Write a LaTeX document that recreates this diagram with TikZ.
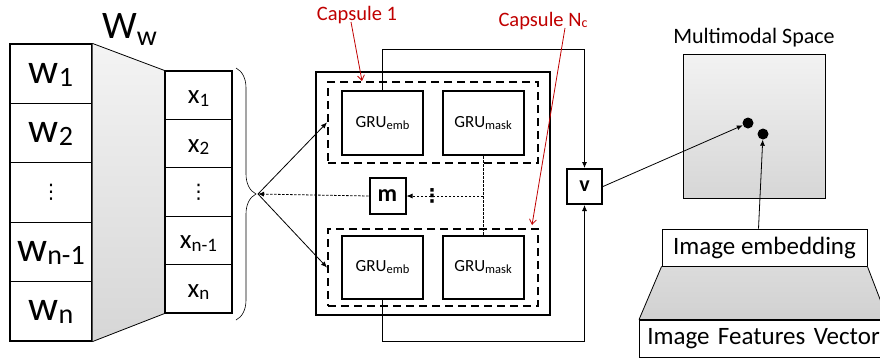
\documentclass[tikz,border=0pt]{standalone}
\usepackage{fontspec}
\setmainfont{Carlito}
\newfontfamily\dvs{DejaVu Sans}
\usetikzlibrary{arrows.meta,decorations.pathreplacing,calc}
\definecolor{capred}{RGB}{192,0,0}
\newcommand{\fs}[1]{\fontsize{#1}{#1}\selectfont}
\newcommand{\sbs}[3]{{\fs{#1}\raisebox{-#2pt}{#3}}}
\begin{document}
\begin{tikzpicture}[x=1pt,y=-1pt,
  cell/.style={draw,line width=1.1pt,inner sep=0pt},
  wcell/.style={cell,minimum width=82,minimum height=59.4},
  wtext/.style={font=\fs{42},text height=22pt,text depth=3pt},
  xcell/.style={cell,minimum width=67,minimum height=48.4},
  xtext/.style={font=\fs{27},text height=19.6pt,text depth=2.5pt},
  grubox/.style={draw,line width=2pt,minimum width=81,minimum height=64,inner sep=0pt,font=\fs{17}},
  capbox/.style={draw,line width=2pt,dash pattern=on 8pt off 5pt,minimum width=210,inner sep=0pt},
  sbox/.style={draw,line width=2pt,minimum width=36,minimum height=36,inner sep=0pt,font=\bfseries\fs{24}},
  tip/.style={-{Latex[length=6pt,width=5pt]}},
  redlbl/.style={text=capred,font=\fs{20.5},inner sep=0pt},
  redarrow/.style={draw=capred,line width=0.8pt,-{Straight Barb[length=5pt,width=7pt]}},
  dline/.style={dash pattern=on 2.5pt off 1.5pt,line width=0.8pt},
  dot/.style={circle,fill=black,inner sep=0pt,minimum size=11}
]
\useasboundingbox (0,0) rectangle (880,360);
\begin{scope}
\clip (0,0) rectangle (880,360);
% ---------- W column ----------
\node[wcell,wtext] (w1) at (51,73.7) {w\sbs{28}{3}{1}};
\node[wcell,wtext] (w2) at (51,133.1) {w\sbs{28}{3}{2}};
\node[wcell,font=\dvs\fs{20}] (w3) at (51,192.5) {⋮};
\node[wcell,wtext] (w4) at (51,251.9) {w\sbs{28}{3}{n-1}};
\node[wcell,wtext] (w5) at (51,311.3) {w\sbs{28}{3}{n}};
% ---------- x column ----------
\node[xcell,xtext] (x1) at (198.5,95.2) {x\sbs{19}{2.5}{1}};
\node[xcell,xtext] (x2) at (198.5,143.6) {x\sbs{19}{2.5}{2}};
\node[xcell,font=\dvs\fs{20}] (x3) at (198.5,192) {⋮};
\node[xcell,xtext] (x4) at (198.5,240.4) {x\sbs{19}{2.5}{n-1}};
\node[xcell,xtext] (x5) at (198.5,288.8) {x\sbs{19}{2.5}{n}};
% ---------- projection trapezoid ----------
\shade[top color=gray!9,bottom color=gray!32] (w1.north east) -- (x1.north west) -- (x5.south west) -- (w5.south east) -- cycle;
\draw[line width=0.8pt] (w1.north east) -- (x1.north west);
\draw[line width=0.8pt] (w5.south east) -- (x5.south west);
\node[inner sep=0pt,anchor=base west,font=\fs{39}] (ww) at (102,38) {W\sbs{28}{7}{w}};
% ---------- brace ----------
\draw[decorate,decoration={brace,amplitude=20pt},line width=0.6pt] (236,68) -- (236,320);
\coordinate (bt) at (258,194);
% ---------- main block ----------
\node[draw,line width=2pt,minimum width=234,minimum height=243,inner sep=0pt] (main) at (433,193.5) {};
\node[capbox,minimum height=81] (cap1) at (433,122.5) {};
\node[capbox,minimum height=77] (capN) at (433,267.5) {};
\node[grubox] (emb1) at (382.5,123) {GRU\sbs{12.5}{2}{emb}};
\node[grubox] (mask1) at (483,123) {GRU\sbs{12.5}{2}{mask}};
\node[grubox,minimum height=63] (emb2) at (382.5,267.5) {GRU\sbs{12.5}{2}{emb}};
\node[grubox,minimum height=63] (mask2) at (483,267.5) {GRU\sbs{12.5}{2}{mask}};
\node[sbox] (m) at (387.5,196) {m};
\node[inner sep=0pt,font=\dvs\bfseries\fs{19}] (vd) at (432,196) {⋮};
% connectors inside
\draw[dline] (mask1.south) -- (mask2.north);
\draw[dline,tip] (mask1.south |- m.east) -- (m.east);
\draw[dline,tip] (m.west) -- (bt);
\draw[line width=0.8pt,tip] (bt) -- (cap1.west);
\draw[line width=0.8pt,tip] (bt) -- (capN.west);
% ---------- v ----------
\node[sbox,minimum width=35,minimum height=35,font=\bfseries\fs{22}] (v) at (584.5,186.5) {v};
\draw[line width=0.8pt,tip] (emb1.north) -- ++(0,-41) -| (v.north);
\draw[line width=0.8pt,tip] (emb2.south) -- ++(0,41) -| (v.south);
% ---------- red labels ----------
\node[redlbl] (c1l) at (357,15) {Capsule 1};
\node[redlbl] (cNl) at (543,21) {Capsule N\sbs{14}{1.5}{c}};
\coordinate (c1t) at (362,81);
\coordinate (cNt) at (532,225);
\draw[redarrow] ([xshift=-6pt,yshift=2pt]c1l.south) -- (c1t);
\draw[redarrow] ([xshift=22pt,yshift=2pt]cNl.south) -- (cNt);
% ---------- multimodal space ----------
\node[inner sep=0pt,font=\fs{22}] (ml) at (754,38) {Multimodal Space};
\node[draw,line width=0.8pt,minimum width=142,minimum height=144,top color=gray!10,bottom color=gray!32] (ms) at (754,126) {};
\node[dot] (d1) at (748,123) {};
\node[dot] (d2) at (763,134) {};
\draw[line width=0.8pt,tip] (v.east) -- (d1);
% ---------- image side ----------
\node[draw,line width=0.8pt,minimum width=205,minimum height=37,inner sep=0pt,font=\fs{25}] (ie) at (764.5,247.5) {Image embedding};
\node[draw,line width=0.8pt,anchor=west,minimum height=37,inner xsep=8pt,inner ysep=0pt,text width=240,align=left,font=\fs{25}] (ifv) at (639,338.5) {Image Features Vector};
\coordinate (tbr) at (888,320);
\shade[top color=gray!28,middle color=gray!12,bottom color=gray!36] (ie.south west) -- (ie.south east) -- (tbr) -- (ifv.north west) -- cycle;
\draw[line width=0.8pt] (ie.south west) -- (ifv.north west);
\draw[line width=0.8pt] (ie.south east) -- (tbr);
\draw[line width=0.8pt] (ifv.north west) -- (ifv.north east);
\draw[line width=0.8pt] (ie.south west) -- (ie.south east);
\draw[line width=0.8pt,tip] ([xshift=-6pt]ie.north) -- (d2);
\end{scope}
\end{tikzpicture}
\end{document}
